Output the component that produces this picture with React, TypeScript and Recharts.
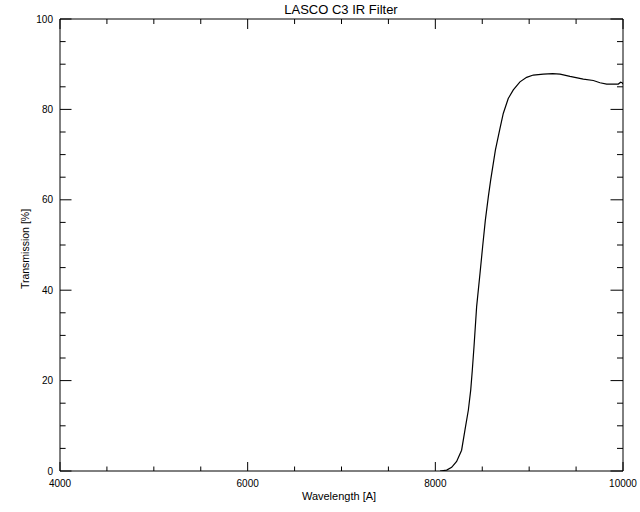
import React from 'react';
import { LineChart, Line, XAxis, YAxis } from 'recharts';

const titleText = 'LASCO C3 IR Filter';
const xLabelText = 'Wavelength [A]';
const yLabelText = 'Transmission [%]';

const wavelength = [
  8050, 8121, 8174, 8227, 8280, 8316, 8352, 8377, 8394, 8412, 8440, 8476, 8504, 8533,
  8565, 8590, 8640, 8689, 8724, 8777, 8831, 8902, 8973, 9044, 9151, 9250, 9329, 9435,
  9577, 9684, 9755, 9826, 9900, 9950, 9975, 9990, 10000,
];
const transmission = [
  0, 0.2, 0.8, 2.1, 4.6, 9.1, 13.5, 17.9, 22.3, 27.5, 36.3, 43.7, 49.6, 55.5,
  60.7, 64.4, 71.0, 75.8, 79.1, 82.4, 84.3, 86.1, 87.1, 87.6, 87.8, 87.9, 87.8, 87.3,
  86.7, 86.4, 85.9, 85.6, 85.6, 85.6, 86.0, 85.9, 85.6,
];

const xTicks = [4000, 4500, 5000, 5500, 6000, 6500, 7000, 7500, 8000, 8500, 9000, 9500, 10000];
const yTicks = [0, 5, 10, 15, 20, 25, 30, 35, 40, 45, 50, 55, 60, 65, 70, 75, 80, 85, 90, 95, 100];

const data = wavelength.map((w, i) => ({ w, t: transmission[i] }));

const FONT = '"Liberation Sans", Arial, sans-serif';

const BottomTick = (props: any) => {
  const { x, y, payload } = props;
  const v = payload.value;
  const major = v % 2000 === 0;
  const len = major ? 9 : 4.5;
  return (
    <g>
      <line x1={x} x2={x} y1={y} y2={y - len} stroke="#000" strokeWidth={1} />
      {major && (
        <text x={x} y={y + 16} textAnchor="middle" fontSize={10} fontFamily={FONT} fill="#000">
          {v}
        </text>
      )}
    </g>
  );
};

const TopTick = (props: any) => {
  const { x, y, payload } = props;
  const v = payload.value;
  const major = v % 2000 === 0;
  const len = major ? 10 : 5;
  return <line x1={x} x2={x} y1={y} y2={y + len} stroke="#000" strokeWidth={1} />;
};

const LeftTick = (props: any) => {
  const { x, y, payload } = props;
  const v = payload.value;
  const major = v % 20 === 0;
  const len = major ? 11.5 : 5.6;
  return (
    <g>
      <line x1={x} x2={x + len} y1={y} y2={y} stroke="#000" strokeWidth={1} />
      {major && (
        <text x={x - 7} y={y + 3.5} textAnchor="end" fontSize={10} fontFamily={FONT} fill="#000">
          {v}
        </text>
      )}
    </g>
  );
};

const RightTick = (props: any) => {
  const { x, y, payload } = props;
  const v = payload.value;
  const major = v % 20 === 0;
  const len = major ? 12.5 : 6;
  return <line x1={x} x2={x - len} y1={y} y2={y} stroke="#000" strokeWidth={1} />;
};

export default function App() {
  return (
    <div style={{ position: 'absolute', left: 0, top: 0, width: 640, height: 512, background: '#fff' }}>
      <LineChart width={640} height={512} data={data} margin={{ top: 18, right: 16, bottom: 0, left: 0 }}>
        <XAxis
          xAxisId="bottom"
          dataKey="w"
          type="number"
          domain={[4000, 10000]}
          ticks={xTicks}
          interval={0}
          height={41}
          tickSize={0}
          tickMargin={0}
          tickLine={false}
          axisLine={{ stroke: '#000' }}
          tick={<BottomTick />}
          allowDataOverflow
        />
        <XAxis
          xAxisId="top"
          orientation="top"
          dataKey="w"
          type="number"
          domain={[4000, 10000]}
          ticks={xTicks}
          interval={0}
          height={1}
          tickSize={0}
          tickMargin={0}
          tickLine={false}
          axisLine={{ stroke: '#000' }}
          tick={<TopTick />}
          allowDataOverflow
        />
        <YAxis
          yAxisId="left"
          type="number"
          domain={[0, 100]}
          ticks={yTicks}
          interval={0}
          width={60}
          tickSize={0}
          tickMargin={0}
          tickLine={false}
          axisLine={{ stroke: '#000' }}
          tick={<LeftTick />}
          allowDataOverflow
        />
        <YAxis
          yAxisId="right"
          orientation="right"
          type="number"
          domain={[0, 100]}
          ticks={yTicks}
          interval={0}
          width={1}
          tickSize={0}
          tickMargin={0}
          tickLine={false}
          axisLine={{ stroke: '#000' }}
          tick={<RightTick />}
          allowDataOverflow
        />
        <Line
          xAxisId="bottom"
          yAxisId="left"
          dataKey="t"
          type="linear"
          stroke="#000"
          strokeWidth={1.2}
          dot={false}
          isAnimationActive={false}
        />
        <Line
          xAxisId="top"
          yAxisId="right"
          dataKey="t"
          type="linear"
          stroke="none"
          dot={false}
          isAnimationActive={false}
        />
      </LineChart>
      <div
        style={{
          position: 'absolute', left: 0, width: 682, top: 2, textAlign: 'center',
          fontFamily: FONT, fontSize: 13, lineHeight: '16px', color: '#000', whiteSpace: 'nowrap',
        }}
      >
        {titleText}
      </div>
      <div
        style={{
          position: 'absolute', left: 0, width: 678, top: 489, textAlign: 'center',
          fontFamily: FONT, fontSize: 11, lineHeight: '14px', color: '#000', whiteSpace: 'nowrap',
        }}
      >
        {xLabelText}
      </div>
      <div
        style={{
          position: 'absolute', left: 25, top: 249, width: 0, height: 0,
        }}
      >
        <div
          style={{
            position: 'absolute', left: -60, top: -7, width: 120, textAlign: 'center',
            fontFamily: FONT, fontSize: 10.5, lineHeight: '14px', color: '#000', whiteSpace: 'nowrap',
            transform: 'rotate(-90deg)',
          }}
        >
          {yLabelText}
        </div>
      </div>
    </div>
  );
}
